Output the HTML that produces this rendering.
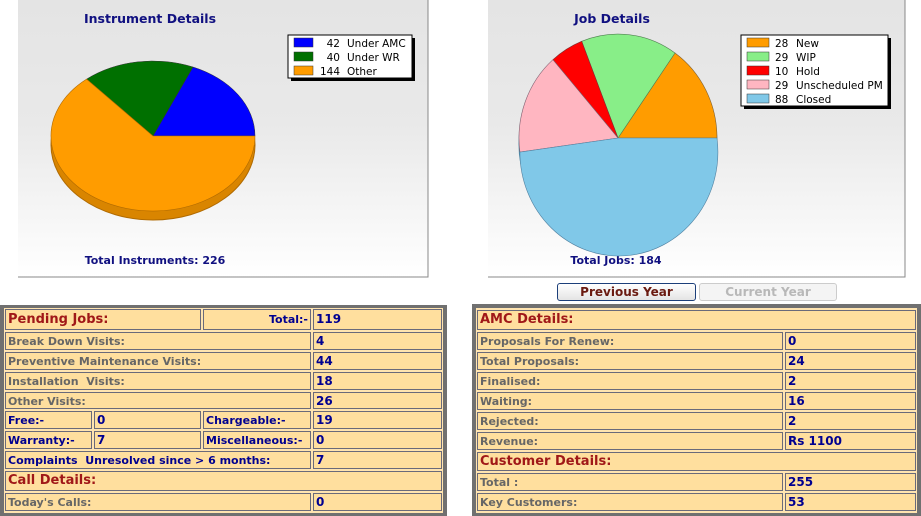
<!DOCTYPE html>
<html><head><meta charset="utf-8"><style>
body{margin:0;width:921px;height:516px;background:#fff;position:relative;overflow:hidden;font-family:"DejaVu Sans","Liberation Sans",sans-serif}
.p{position:absolute}
.c{position:absolute;background:#ffdf9e;border:1px solid #6a6a7a;box-sizing:border-box;font-size:11px;font-weight:bold;color:#666;padding-left:2px;line-height:17px;white-space:nowrap;overflow:hidden}
.v{color:#000090;font-size:12px}
.h{color:#a01818;font-size:13px;line-height:18px}
.b{color:#000090}
.frame{position:absolute;background:#707070}
.btn{position:absolute;font-size:12px;font-weight:bold;text-align:center;line-height:16px;border-radius:3px;box-sizing:border-box}
</style></head><body>
<svg class="p" style="left:0;top:0" width="921" height="280">
<defs><linearGradient id="g" x1="0" y1="0" x2="0" y2="1"><stop offset="0" stop-color="#e4e4e4"/><stop offset="0.45" stop-color="#e9e9e9"/><stop offset="1" stop-color="#ffffff"/></linearGradient></defs>
<rect x="18" y="0" width="410" height="277" fill="url(#g)"/>
<path d="M428 0V277H18" fill="none" stroke="#888"/>
<rect x="488" y="0" width="417" height="277" fill="url(#g)"/>
<path d="M905 0V277H488" fill="none" stroke="#888"/>
<text x="150" y="23" text-anchor="middle" font-family="DejaVu Sans" font-weight="bold" font-size="12.5" fill="#101080">Instrument Details</text>
<text x="155" y="264" text-anchor="middle" font-family="DejaVu Sans" font-weight="bold" font-size="11" fill="#101080">Total Instruments: 226</text>
<text x="612" y="23" text-anchor="middle" font-family="DejaVu Sans" font-weight="bold" font-size="12.5" fill="#101080">Job Details</text>
<text x="616" y="264" text-anchor="middle" font-family="DejaVu Sans" font-weight="bold" font-size="11" fill="#101080">Total Jobs: 184</text>
<!-- left pie -->
<ellipse cx="153" cy="145" rx="102" ry="75" fill="#d98500" stroke="#b06a00"/>
<rect x="51" y="136" width="204" height="9" fill="#d98500"/>
<path d="M153 136L255 136A102 75 0 0 0 193 67Z" fill="#0000ff" stroke="#333" stroke-width="0.5"/>
<path d="M153 136L193 67A102 75 0 0 0 86.6 79.1Z" fill="#007000" stroke="#333" stroke-width="0.5"/>
<path d="M153 136L86.6 79.1A102 75 0 1 0 255 136Z" fill="#ff9c00" stroke="#b06a00" stroke-width="0.6"/>
<!-- right pie -->
<ellipse cx="618" cy="144" rx="99" ry="104" fill="#5fa8c8" stroke="#4a8aa8"/>
<rect x="519" y="138" width="198" height="6" fill="#5fa8c8"/>
<path d="M618 138L717 138A99 104 0 0 0 675 53Z" fill="#ff9c00" stroke="#806030" stroke-width="0.6"/>
<path d="M618 138L675 53A99 104 0 0 0 581.7 41.3Z" fill="#88ee88" stroke="#508050" stroke-width="0.6"/>
<path d="M618 138L581.7 41.3A99 104 0 0 0 552.9 59.7Z" fill="#ff0000" stroke="#803030" stroke-width="0.6"/>
<path d="M618 138L552.9 59.7A99 104 0 0 0 519.9 152.1Z" fill="#ffb6c1" stroke="#806070" stroke-width="0.6"/>
<path d="M618 138L519.9 152.1A99 104 0 1 0 717 138Z" fill="#80c8e8" stroke="#5080a0" stroke-width="0.6"/>
<!-- legends -->
<rect x="291" y="38" width="124" height="43" fill="#000"/>
<rect x="288" y="35" width="124" height="43" fill="#fff" stroke="#000"/>
<g font-family="DejaVu Sans" font-size="10.5" fill="#000">
<rect x="294" y="38" width="19" height="9" fill="#0000ff" stroke="#333" stroke-width="0.5"/><text x="340" y="47" text-anchor="end">42</text><text x="347" y="47">Under AMC</text>
<rect x="294" y="52" width="19" height="9" fill="#007000" stroke="#333" stroke-width="0.5"/><text x="340" y="61" text-anchor="end">40</text><text x="347" y="61">Under WR</text>
<rect x="294" y="66" width="19" height="9" fill="#ff9c00" stroke="#333" stroke-width="0.5"/><text x="340" y="75" text-anchor="end">144</text><text x="347" y="75">Other</text>
</g>
<rect x="744" y="38" width="147" height="71" fill="#000"/>
<rect x="741" y="35" width="147" height="71" fill="#fff" stroke="#000"/>
<g font-family="DejaVu Sans" font-size="10.5" fill="#000">
<rect x="747" y="38" width="22" height="9" fill="#ff9c00" stroke="#333" stroke-width="0.5"/><text x="775" y="47">28</text><text x="796" y="47">New</text>
<rect x="747" y="52" width="22" height="9" fill="#88ee88" stroke="#333" stroke-width="0.5"/><text x="775" y="61">29</text><text x="796" y="61">WIP</text>
<rect x="747" y="66" width="22" height="9" fill="#ff0000" stroke="#333" stroke-width="0.5"/><text x="775" y="75">10</text><text x="796" y="75">Hold</text>
<rect x="747" y="80" width="22" height="9" fill="#ffb6c1" stroke="#333" stroke-width="0.5"/><text x="775" y="89">29</text><text x="796" y="89">Unscheduled PM</text>
<rect x="747" y="94" width="22" height="9" fill="#80c8e8" stroke="#333" stroke-width="0.5"/><text x="775" y="103">88</text><text x="796" y="103">Closed</text>
</g>
</svg>

<div class="btn" style="left:557px;top:283px;width:139px;height:18px;border:1px solid #1c3f7a;background:linear-gradient(#fff,#e4e4e4);color:#6a1a10">Previous Year</div>
<div class="btn" style="left:699px;top:283px;width:138px;height:18px;border:1px solid #ccc;background:#f4f4f4;color:#b8b8b8">Current Year</div>

<div class="frame" style="left:0;top:305px;width:447px;height:211px"></div>
<div class="p" style="left:4px;top:308px;width:439px;height:205px;background:#ffe4b0"></div>
<div class="frame" style="left:472px;top:304px;width:449px;height:212px"></div>
<div class="p" style="left:476px;top:308px;width:441px;height:205px;background:#ffe4b0"></div>

<!-- left table -->
<div class="c h" style="left:5px;top:309px;width:196px;height:21px;line-height:20px">Pending Jobs:</div>
<div class="c b" style="left:203px;top:309px;width:108px;height:21px;text-align:right;padding-right:2px;line-height:19px">Total:-</div>
<div class="c v" style="left:313px;top:309px;width:129px;height:21px;line-height:19px">119</div>
<div class="c" style="left:5px;top:332px;width:306px;height:18px">Break Down Visits:</div><div class="c v" style="left:313px;top:332px;width:129px;height:18px">4</div>
<div class="c" style="left:5px;top:352px;width:306px;height:18px">Preventive Maintenance Visits:</div><div class="c v" style="left:313px;top:352px;width:129px;height:18px">44</div>
<div class="c" style="left:5px;top:372px;width:306px;height:18px">Installation &nbsp;Visits:</div><div class="c v" style="left:313px;top:372px;width:129px;height:18px">18</div>
<div class="c" style="left:5px;top:392px;width:306px;height:17px">Other Visits:</div><div class="c v" style="left:313px;top:392px;width:129px;height:17px">26</div>
<div class="c b" style="left:5px;top:411px;width:87px;height:18px">Free:-</div><div class="c v" style="left:94px;top:411px;width:107px;height:18px">0</div>
<div class="c b" style="left:203px;top:411px;width:108px;height:18px">Chargeable:-</div><div class="c v" style="left:313px;top:411px;width:129px;height:18px">19</div>
<div class="c b" style="left:5px;top:431px;width:87px;height:18px">Warranty:-</div><div class="c v" style="left:94px;top:431px;width:107px;height:18px">7</div>
<div class="c b" style="left:203px;top:431px;width:108px;height:18px">Miscellaneous:-</div><div class="c v" style="left:313px;top:431px;width:129px;height:18px">0</div>
<div class="c b" style="left:5px;top:451px;width:306px;height:18px">Complaints &nbsp;Unresolved since &gt; 6 months:</div><div class="c v" style="left:313px;top:451px;width:129px;height:18px">7</div>
<div class="c h" style="left:5px;top:471px;width:437px;height:20px">Call Details:</div>
<div class="c" style="left:5px;top:493px;width:306px;height:18px">Today's Calls:</div><div class="c v" style="left:313px;top:493px;width:129px;height:18px">0</div>

<!-- right table -->
<div class="c h" style="left:477px;top:310px;width:439px;height:20px">AMC Details:</div>
<div class="c" style="left:477px;top:332px;width:306px;height:18px">Proposals For Renew:</div><div class="c v" style="left:785px;top:332px;width:131px;height:18px">0</div>
<div class="c" style="left:477px;top:352px;width:306px;height:18px">Total Proposals:</div><div class="c v" style="left:785px;top:352px;width:131px;height:18px">24</div>
<div class="c" style="left:477px;top:372px;width:306px;height:18px">Finalised:</div><div class="c v" style="left:785px;top:372px;width:131px;height:18px">2</div>
<div class="c" style="left:477px;top:392px;width:306px;height:18px">Waiting:</div><div class="c v" style="left:785px;top:392px;width:131px;height:18px">16</div>
<div class="c" style="left:477px;top:412px;width:306px;height:18px">Rejected:</div><div class="c v" style="left:785px;top:412px;width:131px;height:18px">2</div>
<div class="c" style="left:477px;top:432px;width:306px;height:18px">Revenue:</div><div class="c v" style="left:785px;top:432px;width:131px;height:18px">Rs 1100</div>
<div class="c h" style="left:477px;top:452px;width:439px;height:19px">Customer Details:</div>
<div class="c" style="left:477px;top:473px;width:306px;height:18px">Total :</div><div class="c v" style="left:785px;top:473px;width:131px;height:18px">255</div>
<div class="c" style="left:477px;top:493px;width:306px;height:18px">Key Customers:</div><div class="c v" style="left:785px;top:493px;width:131px;height:18px">53</div>
</body></html>
